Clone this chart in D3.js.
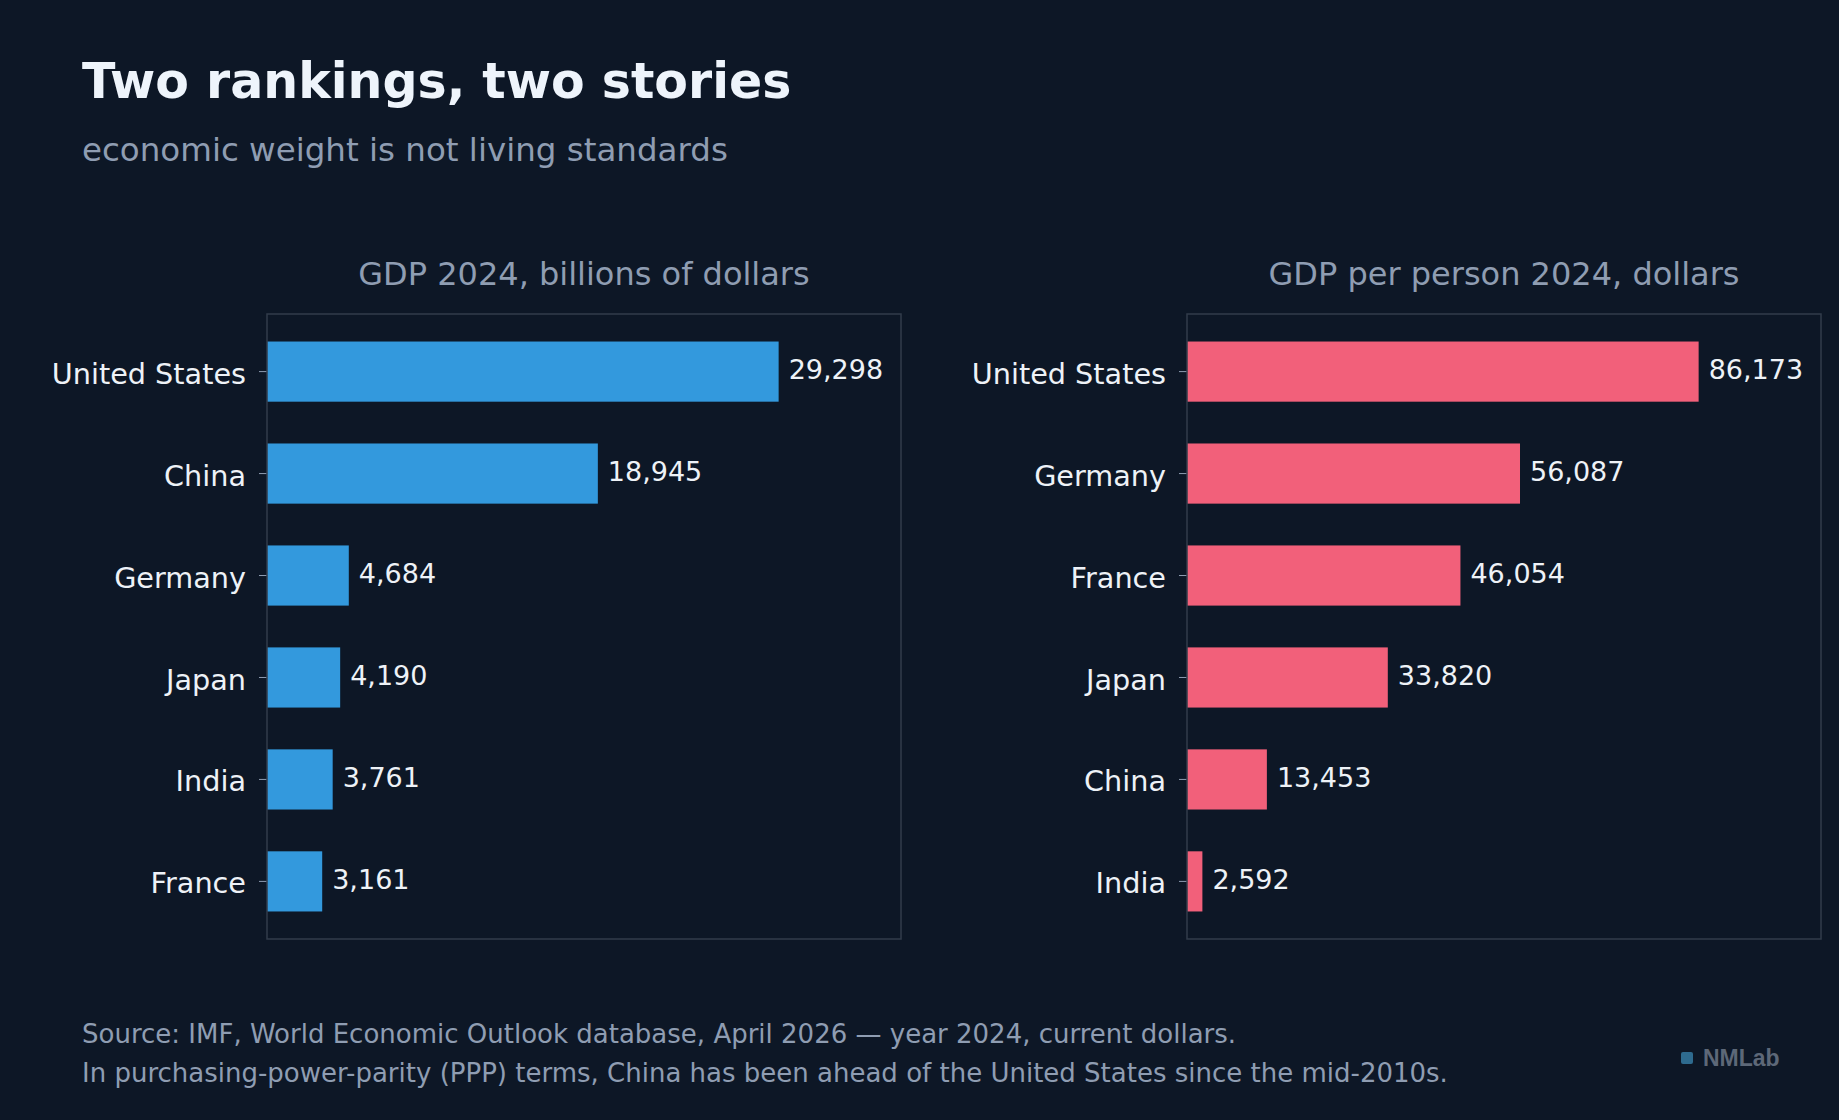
<!DOCTYPE html>
<html><head><meta charset="utf-8">
<script src="https://cdn.jsdelivr.net/npm/d3@7"></script>
<style>
body{margin:0;background:#0d1726;}
text{font-family:"DejaVu Sans",sans-serif;}
</style></head><body>
<script>
// data
const gdpCountries = ["United States","China","Germany","Japan","India","France"];
const gdpValues = [29298,18945,4684,4190,3761,3161];
const pcCountries = ["United States","Germany","France","Japan","China","India"];
const pcValues = [86173,56087,46054,33820,13453,2592];

const W = 1839, H = 1120;
const svg = d3.select("body").append("svg").attr("width", W).attr("height", H);
svg.append("rect").attr("width", W).attr("height", H).attr("fill", "#0d1726");

svg.append("text").attr("x", 82).attr("y", 98).attr("fill", "#eef4fb")
  .style("font-size", "49px").style("font-weight", "bold").text("Two rankings, two stories");
svg.append("text").attr("x", 82).attr("y", 161).attr("fill", "#8f9db2")
  .style("font-size", "32.5px").text("economic weight is not living standards");

function panel(x0, x1, title, cats, vals, color) {
  const top = 314, bottom = 939;
  const g = svg.append("g");
  const x = d3.scaleLinear().domain([0, d3.max(vals) / 0.807]).range([x0, x1]);
  const y = d3.scaleBand().domain(cats).range([top, bottom]).paddingInner(0.41).paddingOuter(0.27);

  g.append("text").attr("x", (x0 + x1) / 2).attr("y", 285).attr("text-anchor", "middle")
    .attr("fill", "#8f9db2").style("font-size", "32px").text(title);

  g.selectAll(".bar").data(vals).enter().append("rect")
    .attr("x", x(0)).attr("y", (d, i) => y(cats[i]))
    .attr("width", d => x(d) - x(0)).attr("height", y.bandwidth()).attr("fill", color);

  g.selectAll(".val").data(vals).enter().append("text")
    .attr("x", d => x(d) + 10).attr("y", (d, i) => y(cats[i]) + y.bandwidth() / 2 + 5)
    .attr("dy", "0.1em").attr("fill", "#eef2f7").style("font-size", "27px")
    .text(d => d3.format(",")(d));

  const ax = g.append("g").attr("transform", `translate(${x0},0)`)
    .call(d3.axisLeft(y).tickSize(8).tickPadding(13));
  ax.select(".domain").remove();
  ax.selectAll("line").attr("stroke", "#8f9db2");
  ax.selectAll("text").attr("fill", "#eef2f7").style("font-size", "28.7px")
    .attr("dy", "0.42em").style("font-family", "DejaVu Sans, sans-serif");

  g.append("rect").attr("x", x0).attr("y", top).attr("width", x1 - x0).attr("height", bottom - top)
    .attr("fill", "none").attr("stroke", "#323c4b").attr("stroke-width", 1.5);
}

panel(267, 901, "GDP 2024, billions of dollars", gdpCountries, gdpValues, "#3399dd");
panel(1187, 1821, "GDP per person 2024, dollars", pcCountries, pcValues, "#f2607a");

svg.append("text").attr("x", 82).attr("y", 1043).attr("fill", "#8f9db2").style("font-size", "26px")
  .text("Source: IMF, World Economic Outlook database, April 2026 \u2014 year 2024, current dollars.");
svg.append("text").attr("x", 82).attr("y", 1082).attr("fill", "#8f9db2").style("font-size", "26px")
  .text("In purchasing-power-parity (PPP) terms, China has been ahead of the United States since the mid-2010s.");

svg.append("rect").attr("x", 1681).attr("y", 1052).attr("width", 12).attr("height", 12).attr("rx", 2).attr("fill", "#2e6b8f");
svg.append("text").attr("x", 1703).attr("y", 1066).attr("fill", "#5d6878").style("font-size", "23px")
  .style("font-weight", "bold").style("font-family", "Liberation Sans, Arial, sans-serif").text("NMLab");
</script>
</body></html>
